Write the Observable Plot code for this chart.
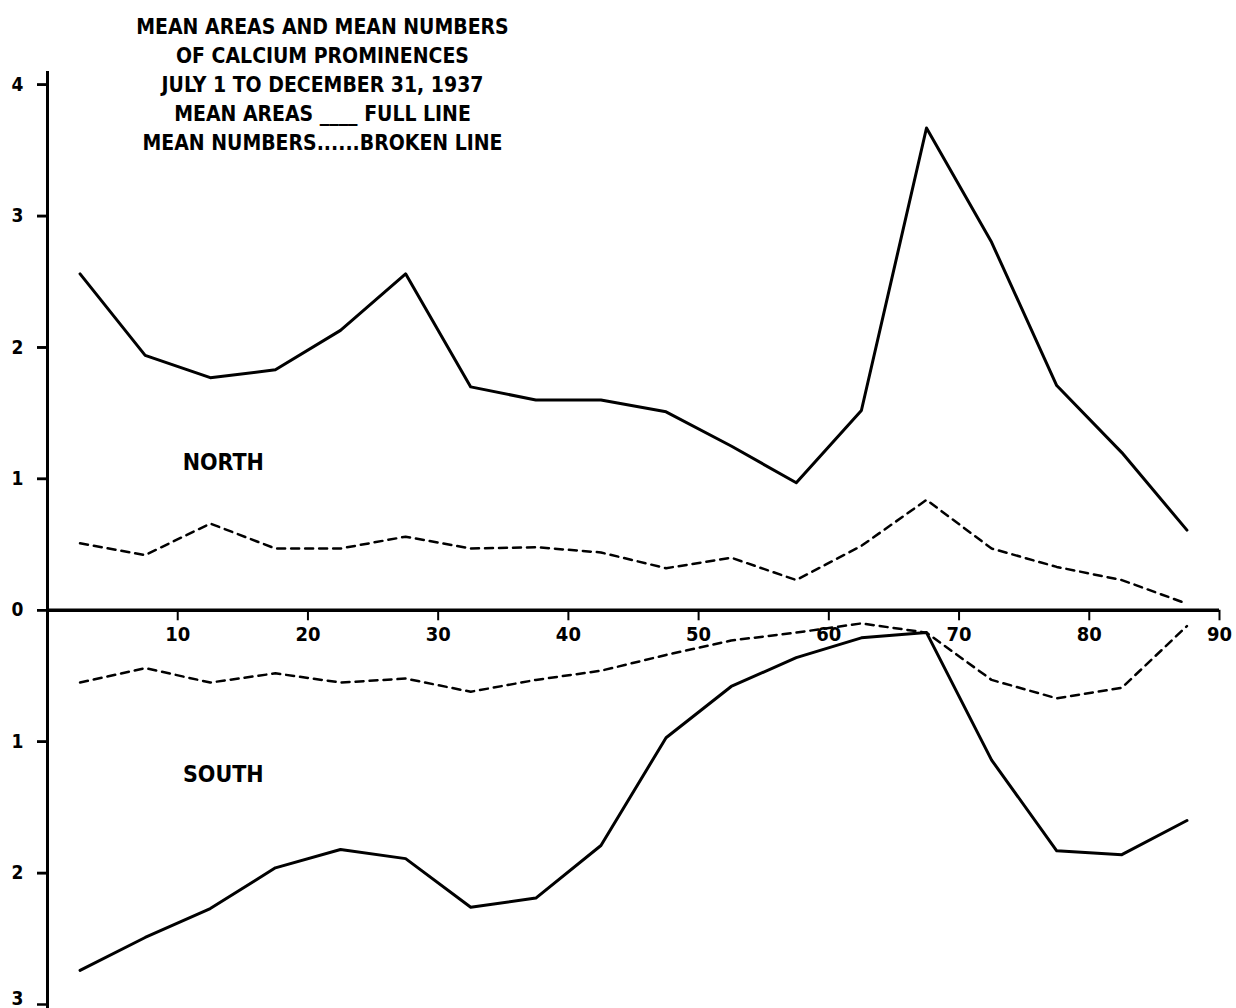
<!DOCTYPE html>
<html><head><meta charset="utf-8">
<script src="https://cdn.jsdelivr.net/npm/d3@7"></script>
<script src="https://cdn.jsdelivr.net/npm/@observablehq/plot@0.6"></script>
<style>body{margin:0;background:#fff}#chart{width:1236px;height:1008px;overflow:hidden}</style>
</head><body><div id="chart"></div>
<script>
// Latitude band centres (degrees)
const latitudes = [2.5,7.5,12.5,17.5,22.5,27.5,32.5,37.5,42.5,47.5,52.5,57.5,62.5,67.5,72.5,77.5,82.5,87.5];
// Mean areas (full line) and mean numbers (broken line)
const northAreas   = [2.56,1.94,1.77,1.83,2.13,2.56,1.70,1.60,1.60,1.51,1.25,0.97,1.52,3.67,2.80,1.71,1.20,0.61];
const northNumbers = [0.51,0.42,0.66,0.47,0.47,0.56,0.47,0.48,0.44,0.32,0.40,0.23,0.49,0.84,0.47,0.33,0.23,0.05];
const southAreas   = [2.74,2.49,2.27,1.96,1.82,1.89,2.26,2.19,1.79,0.97,0.58,0.36,0.21,0.17,1.14,1.83,1.86,1.60];
const southNumbers = [0.55,0.44,0.55,0.48,0.55,0.52,0.62,0.53,0.46,0.34,0.23,0.17,0.10,0.17,0.53,0.67,0.59,0.12];
const xTicks = [10,20,30,40,50,60,70,80,90];
const yTicksAll = [-3,-2,-1,0,1,2,3,4];
const yTicks = [-2,-1,0,1,2,3,4];
const yBottomTick = [-3];
const titleLines = [
  "MEAN AREAS AND MEAN NUMBERS",
  "OF CALCIUM PROMINENCES",
  "JULY 1 TO DECEMBER 31, 1937",
  "MEAN AREAS ____ FULL LINE",
  "MEAN NUMBERS......BROKEN LINE"
];
const hemispheres = ["NORTH", "SOUTH"];

const rows = (vals, sign) => latitudes.map((lat, i) => ({lat, v: sign * vals[i]}));
const FONT = "'DejaVu Sans Condensed','DejaVu Sans',sans-serif";

const chart = Plot.plot({
  width: 1236,
  height: 1008,
  marginLeft: 47,
  marginRight: 17,
  marginTop: 71,
  marginBottom: 4,
  style: {fontFamily: FONT, fontWeight: "bold", fontSize: "19px", background: "#fff", color: "#000"},
  x: {domain: [0, 90], axis: null},
  y: {domain: [-3, 4.1], label: null},
  marks: [
    Plot.axisY({ticks: yTicksAll, tickFormat: () => "", tickSize: 10, label: null, strokeWidth: 2.5}),
    Plot.axisY({ticks: yTicks, tickFormat: d => String(Math.abs(d)), tickSize: 10, tickPadding: 14,
      label: null, fontSize: 19, strokeWidth: 2.5, fontWeight: "bold"}),
    Plot.text(yBottomTick, {x: 0, y: d => d, dx: -24, textAnchor: "end", lineAnchor: "bottom",
      text: d => String(Math.abs(d)), fontSize: 19, fontWeight: "bold"}),
    Plot.ruleX([0], {y1: -3.1, y2: 4.1, strokeWidth: 3}),
    Plot.ruleY([0], {x1: 0, x2: 90, strokeWidth: 3.5}),
    Plot.ruleX(xTicks, {x: d => d, y1: 0, y2: -0.08, strokeWidth: 2}),
    Plot.text(xTicks, {x: d => d, y: 0, dy: 24, text: d => String(d), fontSize: 20, fontWeight: "bold"}),
    Plot.line(rows(northAreas, 1), {x: "lat", y: "v", strokeWidth: 3}),
    Plot.line(rows(southAreas, -1), {x: "lat", y: "v", strokeWidth: 3}),
    Plot.line(rows(northNumbers, 1), {x: "lat", y: "v", strokeWidth: 2.5, strokeDasharray: "8,6"}),
    Plot.line(rows(southNumbers, -1), {x: "lat", y: "v", strokeWidth: 2.5, strokeDasharray: "8,6"}),
    Plot.text([hemispheres[0]], {x: 13.5, y: 1.12, text: d => d, fontSize: 23, fontWeight: "bold"}),
    Plot.text([hemispheres[1]], {x: 13.5, y: -1.25, text: d => d, fontSize: 23, fontWeight: "bold"}),
    Plot.text([titleLines.join("\n")], {frameAnchor: "top-left", dx: 275, dy: -58, lineAnchor: "top",
      textAnchor: "middle", lineHeight: 1.38, text: d => d, fontSize: 21, fontWeight: "bold"})
  ]
});
document.getElementById("chart").appendChild(chart);
</script>
</body></html>
